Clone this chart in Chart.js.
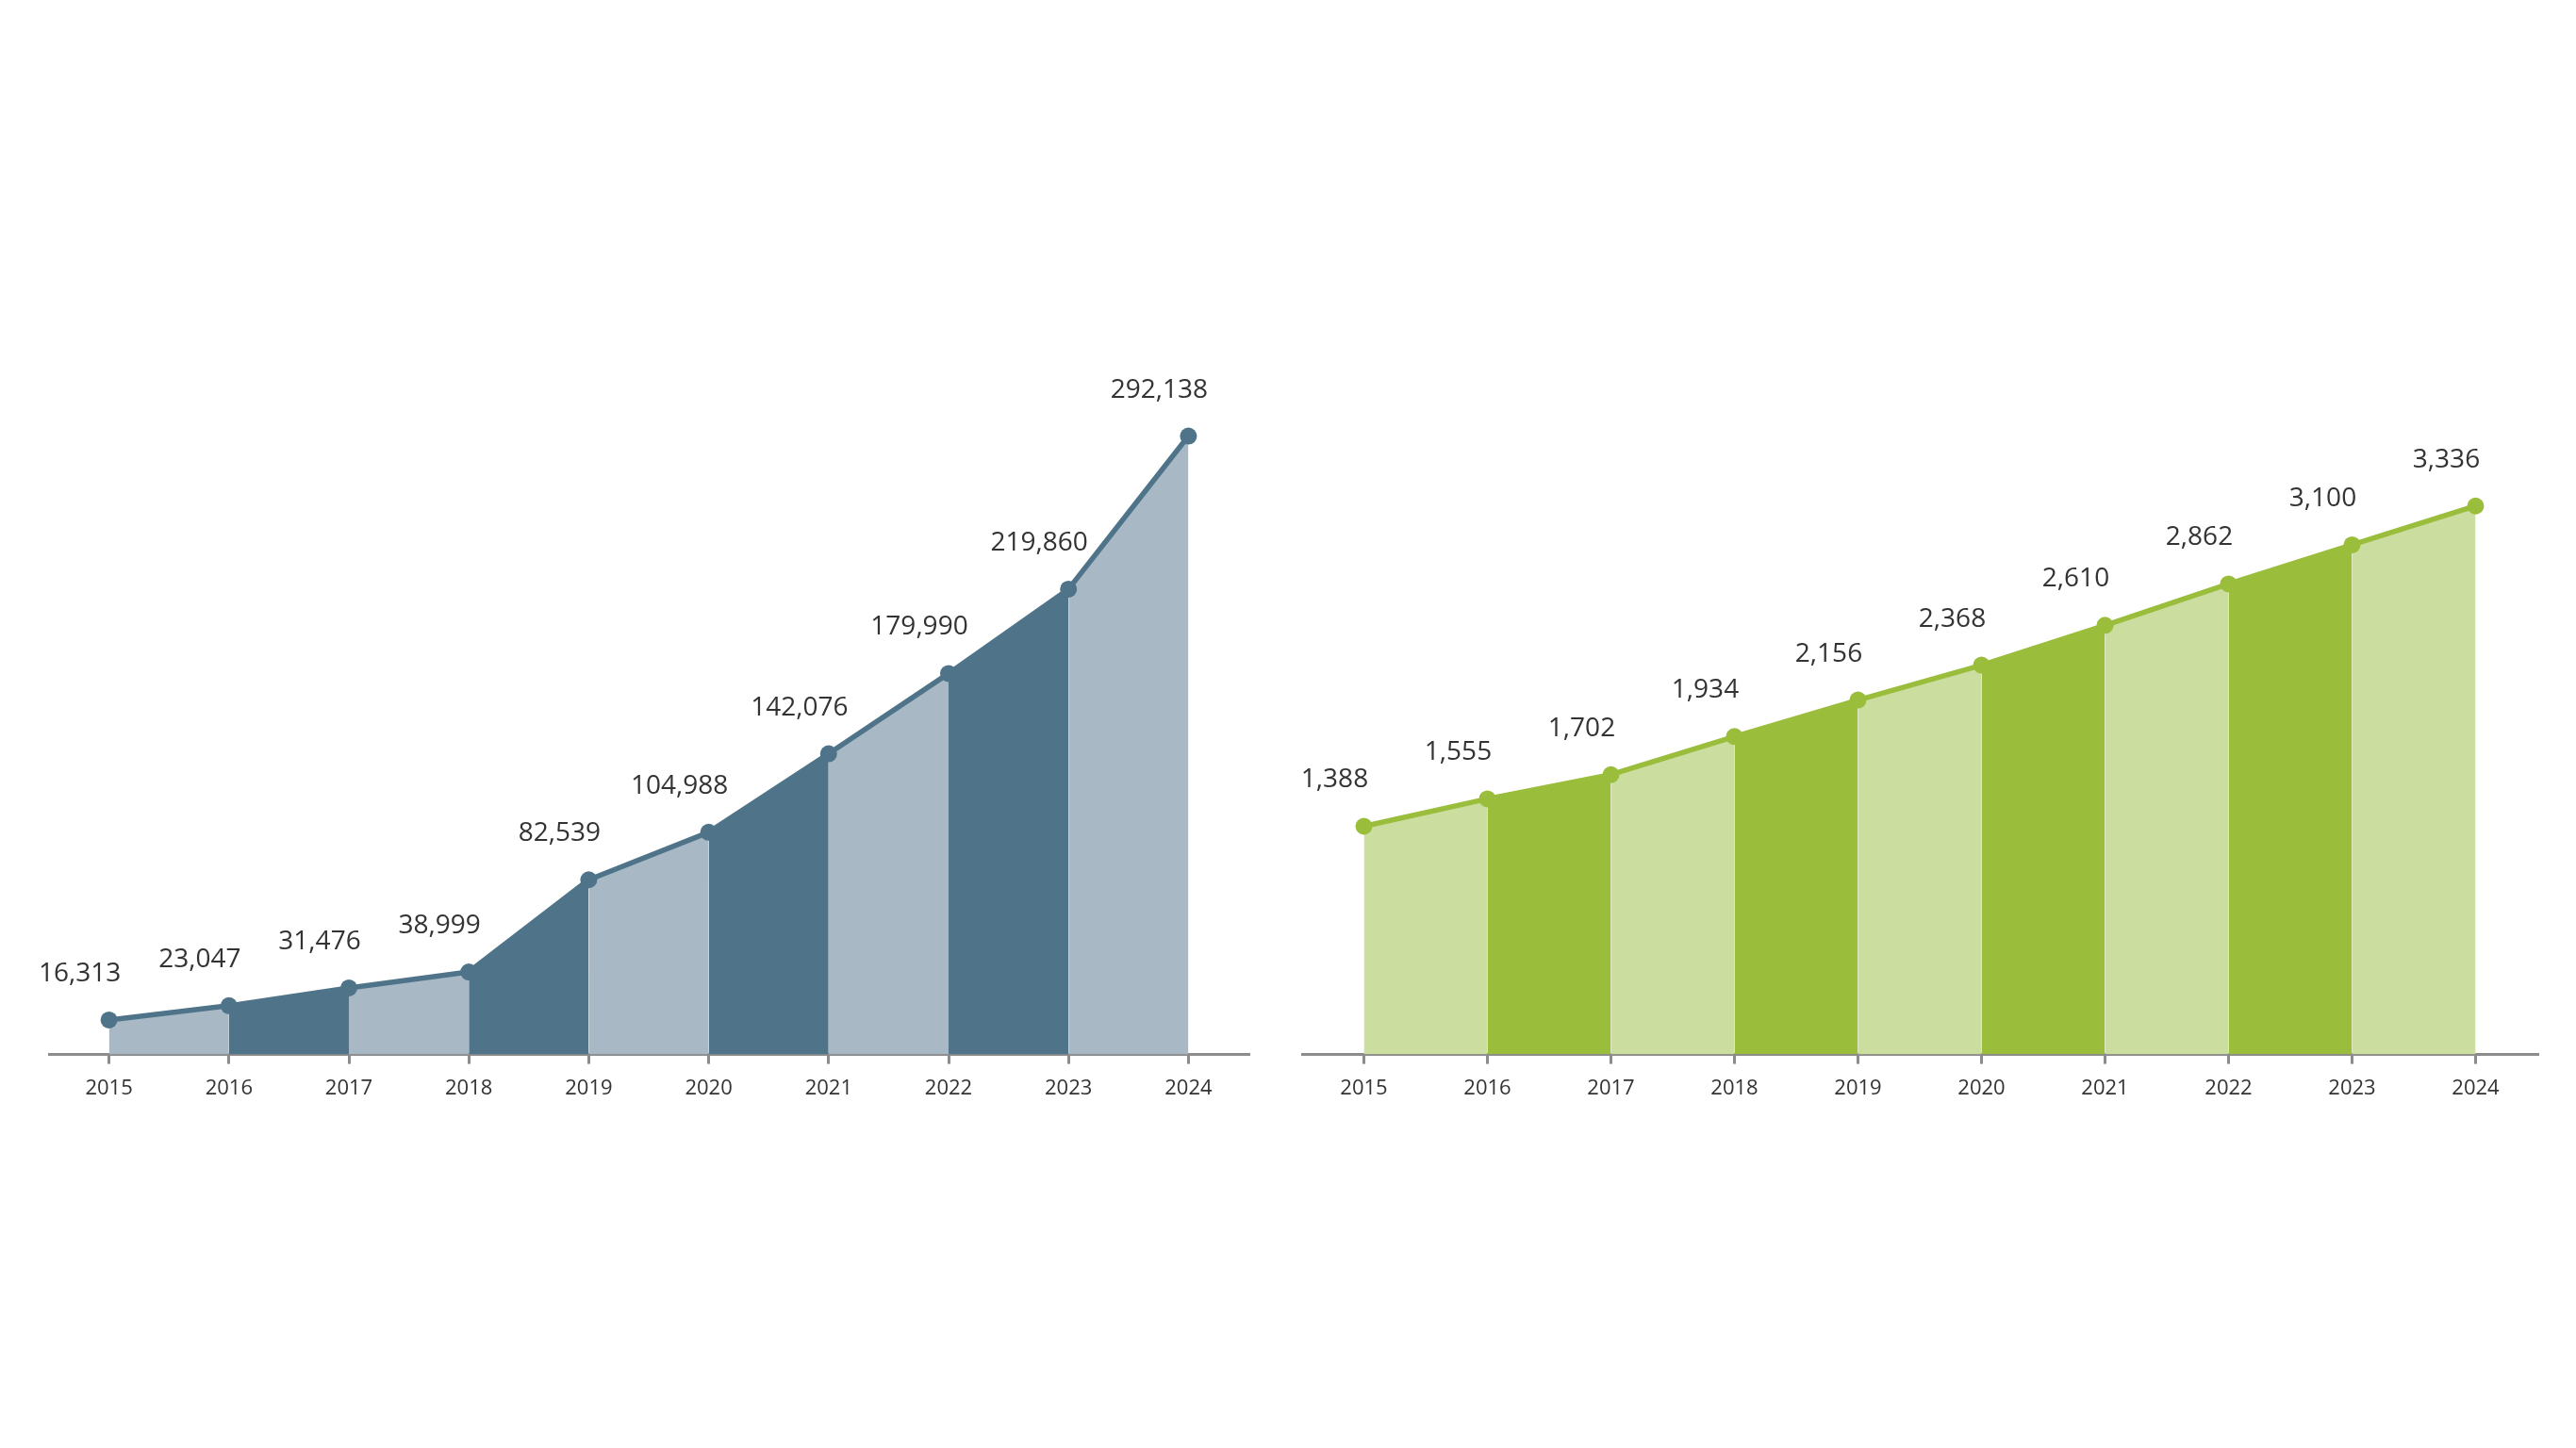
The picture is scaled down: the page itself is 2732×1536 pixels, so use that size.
<!DOCTYPE html>
<html>
<head>
<meta charset="utf-8">
<script src="https://cdn.jsdelivr.net/npm/chart.js@4.4.1/dist/chart.umd.min.js"></script>
<style>
    html, body { margin: 0; padding: 0; background: #ffffff; }
    #wrap { position: relative; width: 2732px; height: 1536px; }
    canvas { position: absolute; top: 0; }
    #graficoEsquerda { left: 0; }
    #graficoDireita { left: 1366px; }
</style>
</head>
<body>
<div id="wrap">
    <canvas id="graficoEsquerda" width="1366" height="1536"></canvas>
    <canvas id="graficoDireita" width="1366" height="1536"></canvas>
</div>
<script>
// =================== DADOS ===================
const anos = ['2015', '2016', '2017', '2018', '2019', '2020', '2021', '2022', '2023', '2024'];
const valoresEsquerda = [16313, 23047, 31476, 38999, 82539, 104988, 142076, 179990, 219860, 292138];
const valoresDireita = [1388, 1555, 1702, 1934, 2156, 2368, 2610, 2862, 3100, 3336];

const corTexto = '#333333';
const corEixo = '#8c8c8c';

// rótulos de valor acima de cada ponto
const rotulosPlugin = {
    id: 'rotulos',
    afterDatasetsDraw(chart) {
        const ctx = chart.ctx;
        const meta = chart.getDatasetMeta(0);
        const dados = chart.data.datasets[0].data;
        ctx.save();
        ctx.font = '28px "Open Sans", sans-serif';
        ctx.fillStyle = corTexto;
        ctx.textAlign = 'center';
        ctx.textBaseline = 'middle';
        meta.data.forEach((ponto, i) => {
            ctx.fillText(dados[i].toLocaleString('en-US'), ponto.x - 31, ponto.y - 49);
        });
        ctx.restore();
    }
};

// =================== FUNÇÃO PARA CRIAR GRÁFICOS ===================
function criarGrafico(elementId, valores, opcoes) {
    const ctx = document.getElementById(elementId);

    return new Chart(ctx, {
        type: 'line',
        data: {
            labels: anos,
            datasets: [{
                data: valores,
                borderColor: opcoes.corLinha,
                borderWidth: 5.5,
                backgroundColor: opcoes.corClara,
                pointBackgroundColor: opcoes.corLinha,
                pointBorderWidth: 0,
                pointRadius: 9,
                tension: 0,
                fill: 'origin',
                segment: {
                    backgroundColor: c => (c.p0DataIndex % 2 === 1 ? opcoes.corEscura : opcoes.corClara)
                }
            }]
        },
        options: {
            responsive: false,
            animation: false,
            layout: {
                padding: opcoes.padding
            },
            plugins: {
                legend: { display: false },
                tooltip: { enabled: false }
            },
            scales: {
                y: {
                    display: false,
                    min: 0,
                    max: opcoes.max
                },
                x: {
                    offset: true,
                    grid: {
                        drawOnChartArea: false,
                        drawTicks: true,
                        tickLength: 10,
                        color: corEixo,
                        lineWidth: 3
                    },
                    border: {
                        display: true,
                        color: corEixo,
                        width: 3
                    },
                    ticks: {
                        color: corTexto,
                        padding: 13,
                        font: { family: '"Open Sans", sans-serif', size: 22 }
                    }
                }
            }
        },
        plugins: [rotulosPlugin]
    });
}

criarGrafico('graficoEsquerda', valoresEsquerda, {
    corLinha: '#4f7489',
    corEscura: '#4f7489',
    corClara: '#a8b9c5',
    max: 320000,
    padding: { left: 52, right: 42, top: 400, bottom: 355 }
});

criarGrafico('graficoDireita', valoresDireita, {
    corLinha: '#9abd3c',
    corEscura: '#9abd3c',
    corClara: '#cbdd9f',
    max: 4120,
    padding: { left: 15, right: 41, top: 400, bottom: 355 }
});
</script>
</body>
</html>
